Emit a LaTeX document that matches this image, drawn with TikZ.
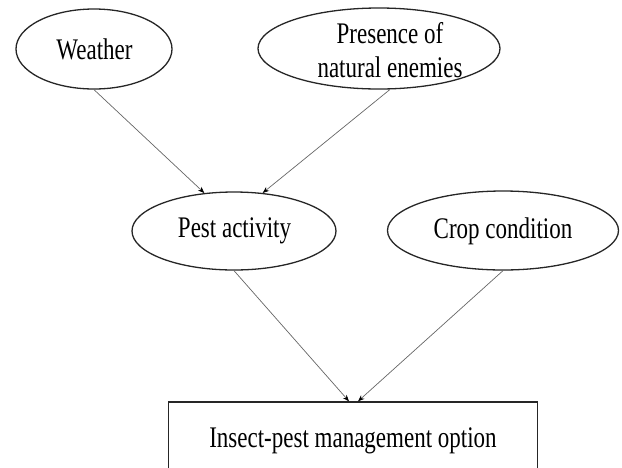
\documentclass[tikz,border=0pt]{standalone}
\usepackage{fontspec}
\setmainfont{Liberation Serif}
\usetikzlibrary{shapes.geometric,arrows.meta}
\tikzset{
  lbl/.style={font=\fontsize{23}{26}\selectfont, align=center},
  oval/.style={ellipse, draw=black!85, line width=1.3pt, inner sep=0pt},
  rectbox/.style={draw=black!85, line width=1.4pt, inner sep=0pt},
  link/.style={draw=black!60, line width=0.7pt, -{Stealth[length=6.5pt,width=5pt,black]}}
}
\newcommand{\vs}[1]{\scalebox{1}[1.3]{#1}}
\begin{document}
\begin{tikzpicture}[x=1pt,y=-1pt]
\useasboundingbox (0,0) rectangle (622,467);
\clip (0,0) rectangle (622,467);
\node[oval, minimum width=156pt, minimum height=80pt] (weather) at (94,49) {};
\node[lbl] at (94.5,49) {\vs{Weather}};
\node[oval, minimum width=242pt, minimum height=81pt] (enemies) at (379,48.5) {};
\node[lbl] at (390,33) {\vs{Presence of}};
\node[lbl] at (390,67) {\vs{natural enemies}};
\node[oval, minimum width=204pt, minimum height=78pt] (pest) at (234,231) {};
\node[lbl] at (234.5,231) {\vs{Pest activity}};
\node[oval, minimum width=231pt, minimum height=79pt] (crop) at (503,230.5) {};
\node[lbl] at (503,231) {\vs{Crop condition}};
\node[rectbox, minimum width=369pt, minimum height=80pt] (box) at (353,442) {};
\node[lbl] at (353,441) {\vs{Insect-pest management option}};
\draw[link] (weather.south) -- (pest.128);
\draw[link] (enemies.285) -- (pest.53);
\draw[link] (pest.south) -- ([xshift=-4pt]box.north);
\draw[link] (crop.south) -- ([xshift=5pt]box.north);
\end{tikzpicture}
\end{document}
